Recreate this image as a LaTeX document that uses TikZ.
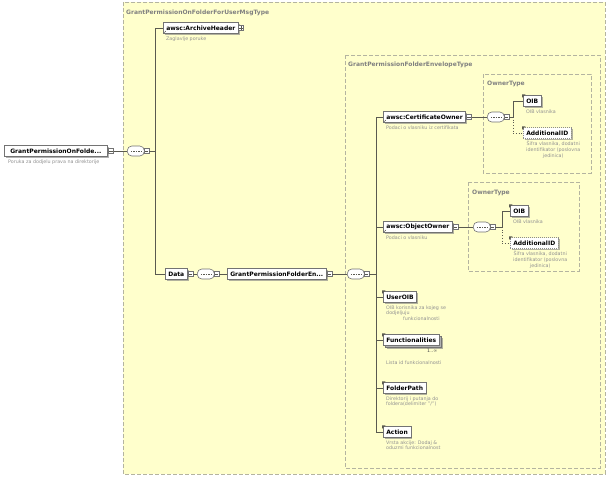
\documentclass[tikz,border=0pt]{standalone}
\usepackage{fontspec}
\setmainfont{DejaVu Sans}
\usetikzlibrary{shadows,arrows.meta}

\definecolor{typebg}{RGB}{255,255,204}
\definecolor{typeline}{RGB}{180,180,160}
\definecolor{labelgray}{RGB}{128,128,128}
\definecolor{notegray}{RGB}{145,145,145}
\definecolor{linkgray}{RGB}{90,90,80}

\newcommand\elemfont{\bfseries\fontsize{6}{7}\selectfont}
\newcommand\notefont{\fontsize{4.8}{5.6}\selectfont}

% small expand/collapse box
\newcommand\xicon[3]{%
  \node[icon] (#1) at (#2) {};
  \draw[linkgray, line width=0.4pt] ([xshift=1pt]#1.west) -- ([xshift=-1pt]#1.east);
  \if#3+\draw[linkgray, line width=0.4pt] ([yshift=-1pt]#1.north) -- ([yshift=1pt]#1.south);\fi
}
% sequence compositor
\newcommand\xseq[2]{%
  \node[seq] (#1) at (#2) {};
  \draw[linkgray, line width=0.7pt, dash pattern=on 1.6pt off 0.9pt] ([xshift=3.8pt]#1.west) -- ([xshift=-3.2pt]#1.east);
  \xicon{#1i}{[xshift=2pt]#1.east}{-}
}

\begin{document}
\begin{tikzpicture}[x=1pt, y=-1pt,
 elem/.style={draw=black!55, fill=white, line width=0.6pt, font=\elemfont, inner xsep=3pt, inner ysep=0pt,
   minimum height=11pt, anchor=west, drop shadow={shadow xshift=1.3pt, shadow yshift=-1.3pt, fill=black!50, opacity=0.6}},
 optelem/.style={elem, draw=black!45, dash pattern=on 1pt off 1pt},
 note/.style={font=\notefont, text=notegray, anchor=north west, align=left, inner sep=0pt},
 seq/.style={draw=black!55, fill=white, line width=0.6pt, rounded corners=4.5pt, minimum width=17pt, minimum height=10pt, inner sep=0pt, anchor=west},
 icon/.style={draw=black!55, fill=white, line width=0.4pt, minimum size=5pt, inner sep=0pt},
 typebox/.style={draw=typeline, fill=typebg, line width=0.6pt, dash pattern=on 4pt off 2pt},
 typelabel/.style={font=\bfseries\fontsize{6}{7}\selectfont, text=labelgray, anchor=west, inner sep=0pt},
 link/.style={draw=linkgray, line width=0.7pt},
]
\useasboundingbox[fill=white] (0,0) rectangle (607,479);

%type boxes
\draw[typebox] (123,2) rectangle (605,474);
\node[typelabel] (t-msg) at (126,13) {GrantPermissionOnFolderForUserMsgType};
\draw[typebox] (345,55) rectangle (600,468);
\node[typelabel] (t-env) at (348,65) {GrantPermissionFolderEnvelopeType};
\draw[typebox] (483,74) rectangle (591,173);
\node[typelabel] (t-own1) at (487,84) {OwnerType};
\draw[typebox] (468,182) rectangle (579,271);
\node[typelabel] (t-own2) at (472,193) {OwnerType};

%root
\node[elem, minimum width=103pt] (root) at (4,151) {GrantPermissionOnFolde...};
\xicon{rooti}{[xshift=3.5pt]root.east}{-}
\node[note] (n-root) at ([xshift=4pt,yshift=-2.5pt]root.south west) {Poruka za dodjelu prava na direktorije};
\xseq{s1}{127,151}
\coordinate (b1) at (155,151);

\node[elem] (arch) at (163,28) {awsc:ArchiveHeader};
\xicon{archi}{[xshift=2.5pt]arch.east}{+}
\node[note] (n-arch) at ([xshift=3pt,yshift=-2.5pt]arch.south west) {Zaglavlje poruke};

\node[elem] (data) at (165,274) {Data};
\xicon{datai}{[xshift=3pt]data.east}{-}
\xseq{s2}{197,274}
\node[elem] (env) at (227,274) {GrantPermissionFolderEn...};
\xicon{envi}{[xshift=3pt]env.east}{-}
\xseq{s3}{347,274}
\coordinate (b3) at (376,274);

%envelope children
\node[elem] (cert) at (383,117) {awsc:CertificateOwner};
\xicon{certi}{[xshift=3pt]cert.east}{-}
\node[note] (n-cert) at ([xshift=3pt,yshift=-2.5pt]cert.south west) {Podaci o vlasniku iz certifikata};
\xseq{s4}{487,117}
\coordinate (b4) at (513,117);
\node[elem] (oib1) at (523,101) {OIB};
\node[note] (n-oib1) at ([xshift=3pt,yshift=-2.5pt]oib1.south west) {OIB vlasnika};
\node[optelem] (add1) at (523,133) {AdditionalID};
\node[note, align=center] (n-add1) at ([xshift=3pt,yshift=-2.5pt]add1.south west) {Šifra vlasnika, dodatni\\identifikator (poslovna\\jedinica)};

\node[elem] (obj) at (383,227) {awsc:ObjectOwner};
\xicon{obji}{[xshift=3pt]obj.east}{-}
\node[note] (n-obj) at ([xshift=3pt,yshift=-2.5pt]obj.south west) {Podaci o vlasniku};
\xseq{s5}{473,227}
\coordinate (b5) at (502,227);
\node[elem] (oib2) at (510,211) {OIB};
\node[note] (n-oib2) at ([xshift=3pt,yshift=-2.5pt]oib2.south west) {OIB vlasnika};
\node[optelem] (add2) at (510,243) {AdditionalID};
\node[note, align=center] (n-add2) at ([xshift=3pt,yshift=-2.5pt]add2.south west) {Šifra vlasnika, dodatni\\identifikator (poslovna\\jedinica)};

\node[elem] (user) at (383,297) {UserOIB};
\node[note] (n-user) at ([xshift=3pt,yshift=-2.5pt]user.south west) {OIB korisnika za kojeg se\\dodjeljuju\\\hspace*{17pt}funkcionalnosti};

\node[elem] (funcback) at (385,342) {\phantom{Functionalities}};
\node[elem] (func) at (383,340) {Functionalities};
\node[note, anchor=north east, text=black!70] (n-occ) at ([xshift=-2pt,yshift=-3pt]func.south east) {1..∞};
\node[note] (n-func) at ([xshift=3pt,yshift=-15pt]func.south west) {Lista id funkcionalnosti};

\node[elem] (path) at (383,388) {FolderPath};
\node[note] (n-path) at ([xshift=3pt,yshift=-2.5pt]path.south west) {Direktorij i putanja do\\foldera(delimiter "/")};

\node[elem] (act) at (383,432) {Action};
\node[note] (n-act) at ([xshift=3pt,yshift=-2.5pt]act.south west) {Vrsta akcije: Dodaj \&\\oduzmi funkcionalnost};

%reference marks
\foreach \e in {arch,cert,obj}
  \draw[linkgray, line width=0.4pt, -{Stealth[length=1.4pt]}] ([xshift=0.8pt,yshift=0.8pt]\e.south west) -- ++(2.2,-2.2);
%simple content marks
\foreach \e in {oib1,add1,oib2,add2,user,func,path,act}
  \fill[linkgray] ([xshift=-0.8pt,yshift=0.8pt]\e.north west) -- ++(3.3,0) -- ++(-3.3,3.3) -- cycle;

%connectors
\draw[link] (rooti.east) -- (s1.west);
\draw[link] (s1i.east) -- (b1);
\draw[link] (b1) |- (arch.west);
\draw[link] (b1) |- (data.west);
\draw[link] (datai.east) -- (s2.west);
\draw[link] (s2i.east) -- (env.west);
\draw[link] (envi.east) -- (s3.west);
\draw[link] (s3i.east) -- (b3);
\foreach \c in {cert,obj,user,func,path,act}
  \draw[link] (b3) |- (\c.west);
\draw[link] (certi.east) -- (s4.west);
\draw[link] (s4i.east) -- (b4);
\draw[link] (b4) |- (oib1.west);
\draw[link, dotted] (b4) |- (add1.west);
\draw[link] (obji.east) -- (s5.west);
\draw[link] (s5i.east) -- (b5);
\draw[link] (b5) |- (oib2.west);
\draw[link, dotted] (b5) |- (add2.west);

\end{tikzpicture}
\end{document}
